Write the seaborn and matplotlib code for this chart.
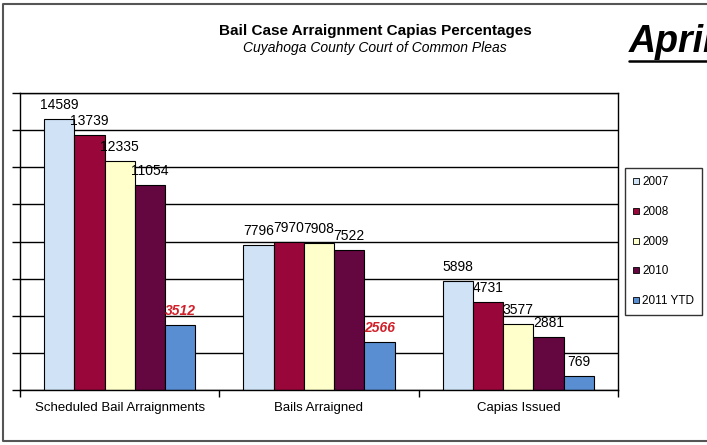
import numpy as np
import pandas as pd
import matplotlib
matplotlib.use("Agg")
import matplotlib.pyplot as plt
import seaborn as sns
from matplotlib.lines import Line2D

# Data
categories = ["Scheduled Bail Arraignments", "Bails Arraigned", "Capias Issued"]
years = ["2007", "2008", "2009", "2010", "2011 YTD"]
v2007 = [14589, 7796, 5898]
v2008 = [13739, 7970, 4731]
v2009 = [12335, 7908, 3577]
v2010 = [11054, 7522, 2881]
v2011 = [3512, 2566, 769]

cols = ["#CFE2F6", "#99063A", "#FFFFCC", "#64063F", "#5A8ED2"]

sns.set_style("white")
plt.rcParams['font.family'] = ['Liberation Sans', 'DejaVu Sans']
plt.rcParams['text.color'] = 'black'
plt.rcParams['xtick.color'] = 'black'
plt.rcParams['ytick.color'] = 'black'

# long format
rows = []
for yr, vals in zip(years, [v2007, v2008, v2009, v2010, v2011]):
    for cat, v in zip(categories, vals):
        rows.append([cat, yr, v])
df = pd.DataFrame(rows, columns=["category", "year", "value"])

fig = plt.figure(figsize=(7.07, 4.45), dpi=100)
ax = fig.add_axes([20/707, 1-390/445, 598/707, 297/445])

sns.barplot(data=df, x="category", y="value", hue="year", order=categories,
            hue_order=years, palette=cols, saturation=1, width=0.76,
            edgecolor="black", linewidth=0.8, legend=False, ax=ax)

ax.set_ylim(0, 16000)
ax.set_yticks(np.arange(0, 16001, 2000))
ax.set_yticklabels([])
ax.yaxis.grid(True, color="black", lw=1)
ax.set_axisbelow(True)
ax.tick_params(axis="y", left=True, length=6, width=1, color="black")
ax.set_xlim(-0.5, 2.5)
ax.set_xticks(range(3))
ax.set_xticklabels(categories, fontsize=9.5)
ax.tick_params(axis="x", length=0, pad=9)
ax.set_xticks([-0.5, 0.5, 1.5, 2.5], minor=True)
ax.tick_params(axis="x", which="minor", bottom=True, length=5, width=1, color="black")
ax.set_xlabel("")
ax.set_ylabel("")
for sp in ax.spines.values():
    sp.set_color("black")
    sp.set_linewidth(1)

# value labels
for i, cont in enumerate(ax.containers):
    texts = ax.bar_label(cont, padding=5, fontsize=10)
    if years[i] == "2011 YTD":
        for t in texts[:2]:
            t.set_color("#D0202A")
            t.set_fontweight("bold")
            t.set_fontstyle("italic")

# legend
handles = [Line2D([0], [0], lw=0, marker="s", markersize=5,
                  markerfacecolor=c, markeredgecolor="black", markeredgewidth=0.6)
           for c in cols]
leg = fig.legend(handles, years, loc="upper left",
                 bbox_to_anchor=(625/707, 1-168/445), borderaxespad=0,
                 frameon=True, fancybox=False, edgecolor="black",
                 prop={"size": 8.5}, labelspacing=1.5, handlelength=0.5,
                 handletextpad=0.25, borderpad=0.7)
leg.get_frame().set_linewidth(1)

# titles
fig.text(375/707, 1-31/445, "Bail Case Arraignment Capias Percentages",
         ha="center", va="center", fontsize=11, fontweight="bold")
fig.text(375/707, 1-48/445, "Cuyahoga County Court of Common Pleas",
         ha="center", va="center", fontsize=10, fontstyle="italic")
fig.text(629/707, 1-42/445, "April", ha="left", va="center",
         fontsize=27, fontweight="bold", fontstyle="italic")
fig.add_artist(Line2D([629/707, 1.0], [1-61/445, 1-61/445], color="black",
                      lw=1.8, transform=fig.transFigure))

# outer frame (right side is cut off in the original)
x0, x1, y0, y1 = 3/707, 1.0, 4/445, 1-4/445
fig.add_artist(Line2D([x1, x0, x0, x1], [y1, y1, y0, y0], color="#555555",
                      lw=1.5, transform=fig.transFigure))

fig.savefig("out.png", dpi=100)
